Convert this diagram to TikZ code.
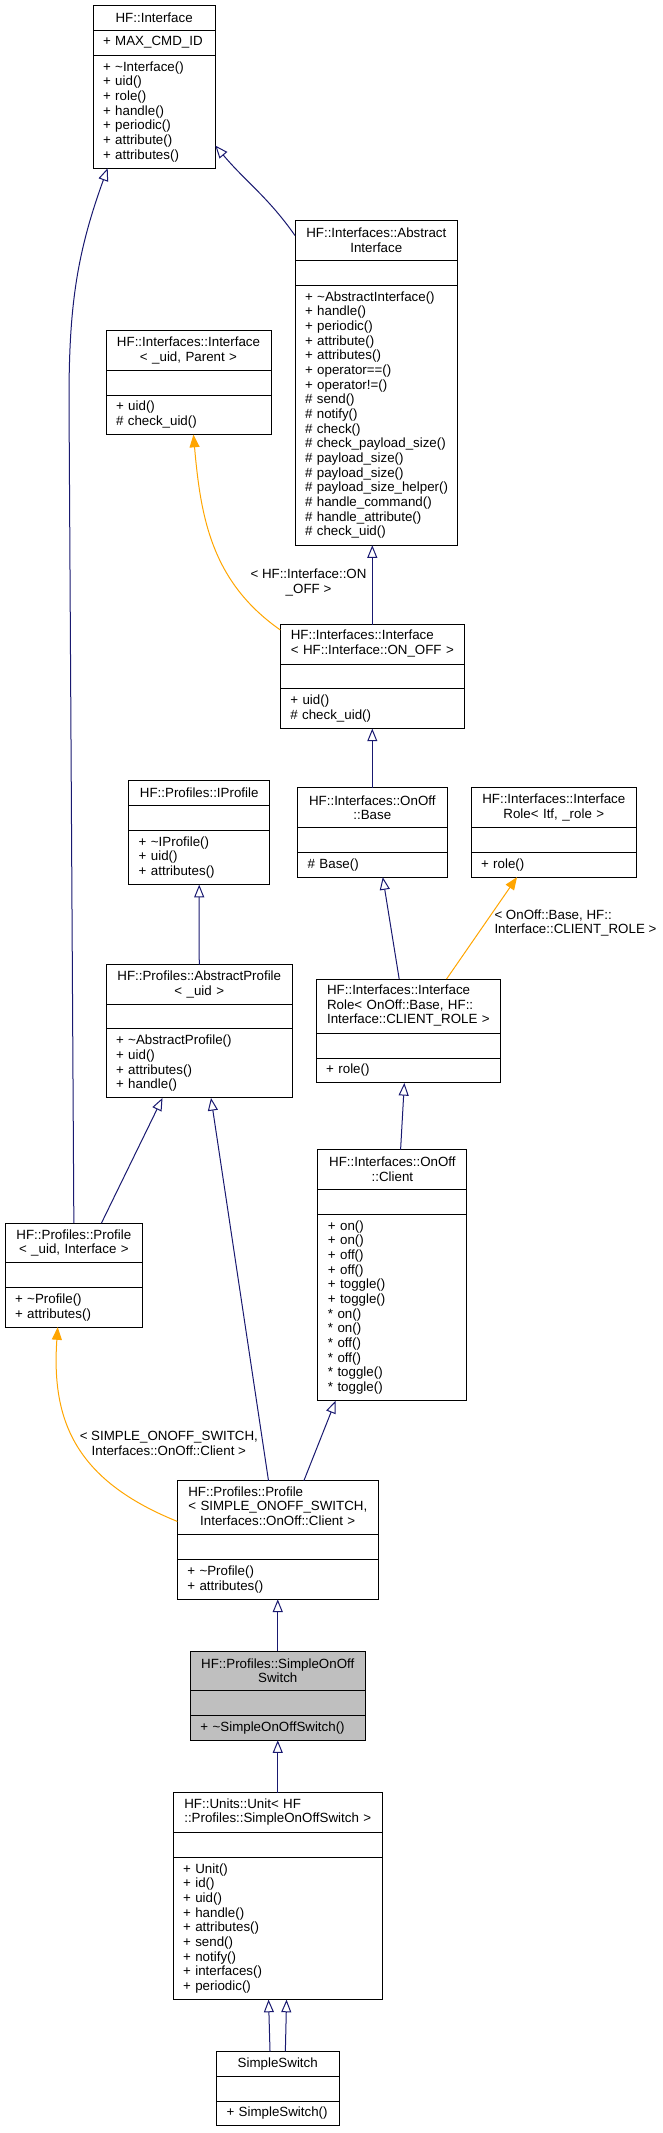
\documentclass[tikz,border=0pt]{standalone}
\usepackage{fontspec}
\setmainfont{Liberation Sans}
\usepackage{tikz}
\usetikzlibrary{arrows.meta,positioning,calc}
\definecolor{edgeblue}{HTML}{191970}
\definecolor{tplorange}{HTML}{FFA500}
\definecolor{curfill}{HTML}{BFBFBF}

\begin{document}
\begin{tikzpicture}[
    x=0.75pt, y=0.75pt,
    cls/.style={draw, line width=0.75pt, inner xsep=7.5pt, inner ysep=1pt,
                outer sep=0pt, text width={#1*0.75pt-15pt}},
    nrows/.style={minimum height={#1*11.03pt+7.6pt}},
    clshead/.style={align=center},
    clsbody/.style={align=left, execute at begin node={\hyphenpenalty=10000}},
    inherit/.style={draw=edgeblue, line width=0.75pt,
                    -{Triangle[open, length=9.5pt, width=7.5pt]}},
    tmpl/.style={draw=tplorange, line width=0.75pt,
                 -{Triangle[length=9.5pt, width=7.5pt]}},
    lbl/.style={align=center, inner sep=2pt},
    every node/.style={font=\fontsize{10}{11}\selectfont},
  ]
  \useasboundingbox (0,0) rectangle (662,-2133);

  % ── Row 0: HF::Interface ──
  \node[cls=122.3, clshead, nrows=1, anchor=north west] at (93,-5.4) (iface)
    {HF::Interface};
  \node[cls=122.3, clsbody, nrows=1, below=0pt of iface] (iface-a)
    {+ MAX\_CMD\_ID};
  \node[cls=122.3, clsbody, nrows=7, below=0pt of iface-a] (iface-m)
    {+ \textasciitilde Interface()\\+ uid()\\+ role()\\+ handle()\\
     + periodic()\\+ attribute()\\+ attributes()};

  % ── Row 1: AbstractInterface, Interface template ──
  \node[cls=162.6, clshead, nrows=2, anchor=north west] at (295,-220.7) (absiface)
    {HF::Interfaces::Abstract\\Interface};
  \node[cls=162.6, clsbody, nrows=1, below=0pt of absiface] (absiface-a) {};
  \node[cls=162.6, clsbody, nrows=17, below=0pt of absiface-a] (absiface-m)
    {+ \textasciitilde AbstractInterface()\\+ handle()\\+ periodic()\\
     + attribute()\\+ attributes()\\+ operator==()\\+ operator!=()\\
     \# send()\\\# notify()\\\# check()\\\# check\_payload\_size()\\
     \# payload\_size()\\\# payload\_size()\\\mbox{\# payload\_size\_helper()}\\
     \# handle\_command()\\\# handle\_attribute()\\\# check\_uid()};

  \node[cls=165, clshead, nrows=2, anchor=north west] at (106,-330.7) (ifacetpl)
    {HF::Interfaces::Interface\\< \_uid, Parent >};
  \node[cls=165, clsbody, nrows=1, below=0pt of ifacetpl] (ifacetpl-a) {};
  \node[cls=165, clsbody, nrows=2, below=0pt of ifacetpl-a] (ifacetpl-m)
    {+ uid()\\\# check\_uid()};

  % ── Row 2: Interface< ON_OFF > ──
  \node[cls=184, clshead, nrows=2, anchor=north west] at (280.3,-624.6) (ifaceonoff)
    {\begin{tabular}{@{}l@{}}HF::Interfaces::Interface\\
     < HF::Interface::ON\_OFF >\end{tabular}};
  \node[cls=184, clsbody, nrows=1, below=0pt of ifaceonoff] (ifaceonoff-a) {};
  \node[cls=184, clsbody, nrows=2, below=0pt of ifaceonoff-a] (ifaceonoff-m)
    {+ uid()\\\# check\_uid()};

  % ── Row 3: IProfile, OnOff::Base, InterfaceRole ──
  \node[cls=141, clshead, nrows=1, anchor=north west] at (128.7,-780.7) (iprofile)
    {HF::Profiles::IProfile};
  \node[cls=141, clsbody, nrows=1, below=0pt of iprofile] (iprofile-a) {};
  \node[cls=141, clsbody, nrows=3, below=0pt of iprofile-a] (iprofile-m)
    {+ \textasciitilde IProfile()\\+ uid()\\+ attributes()};

  \node[cls=149.4, clshead, nrows=2, anchor=north west] at (297.6,-787.9) (onoffbase)
    {HF::Interfaces::OnOff\\::Base};
  \node[cls=149.4, clsbody, nrows=1, below=0pt of onoffbase] (onoffbase-a) {};
  \node[cls=149.4, clsbody, nrows=1, below=0pt of onoffbase-a] (onoffbase-m)
    {\# Base()};

  \node[cls=165.6, clshead, nrows=2, anchor=north west] at (471,-787.9) (itfrole)
    {HF::Interfaces::Interface\\Role< Itf, \_role >};
  \node[cls=165.6, clsbody, nrows=1, below=0pt of itfrole] (itfrole-a) {};
  \node[cls=165.6, clsbody, nrows=1, below=0pt of itfrole-a] (itfrole-m)
    {+ role()};

  % ── Row 4: AbstractProfile, InterfaceRole< OnOff::Base > ──
  \node[cls=186.5, clshead, nrows=2, anchor=north west] at (106,-964.6) (absprofile)
    {HF::Profiles::AbstractProfile\\< \_uid >};
  \node[cls=186.5, clsbody, nrows=1, below=0pt of absprofile] (absprofile-a) {};
  \node[cls=186.5, clsbody, nrows=4, below=0pt of absprofile-a] (absprofile-m)
    {+ \textasciitilde AbstractProfile()\\+ uid()\\+ attributes()\\+ handle()};

  \node[cls=184.4, clshead, nrows=3, anchor=north west] at (316.2,-979) (clientrole)
    {\begin{tabular}{@{}l@{}}HF::Interfaces::Interface\\
     Role< OnOff::Base, HF::\\Interface::CLIENT\_ROLE >\end{tabular}};
  \node[cls=184.4, clsbody, nrows=1, below=0pt of clientrole] (clientrole-a) {};
  \node[cls=184.4, clsbody, nrows=1, below=0pt of clientrole-a] (clientrole-m)
    {+ role()};

  % ── Row 5: Profile< _uid, Interface >, OnOff::Client ──
  \node[cls=137.7, clshead, nrows=2, anchor=north west] at (5,-1223.2) (profileuid)
    {HF::Profiles::Profile\\< \_uid, Interface >};
  \node[cls=137.7, clsbody, nrows=1, below=0pt of profileuid] (profileuid-a) {};
  \node[cls=137.7, clsbody, nrows=2, below=0pt of profileuid-a] (profileuid-m)
    {+ \textasciitilde Profile()\\+ attributes()};

  \node[cls=149, clshead, nrows=2, anchor=north west] at (317.9,-1149.6) (client)
    {HF::Interfaces::OnOff\\::Client};
  \node[cls=149, clsbody, nrows=1, below=0pt of client] (client-a) {};
  \node[cls=149, clsbody, nrows=12, below=0pt of client-a] (client-m)
    {+ on()\\+ on()\\+ off()\\+ off()\\+ toggle()\\+ toggle()\\
     {}* on()\\{}* on()\\{}* off()\\{}* off()\\{}* toggle()\\{}* toggle()};

  % ── Row 6: Profile< SIMPLE_ONOFF_SWITCH > ──
  \node[cls=200.9, clshead, nrows=3, anchor=north west] at (177.3,-1480.7) (profile)
    {\begin{tabular}{@{}l@{}}HF::Profiles::Profile\\
     < SIMPLE\_ONOFF\_SWITCH,\\
     \multicolumn{1}{@{}c@{}}{Interfaces::OnOff::Client >}\end{tabular}};
  \node[cls=200.9, clsbody, nrows=1, below=0pt of profile] (profile-a) {};
  \node[cls=200.9, clsbody, nrows=2, below=0pt of profile-a] (profile-m)
    {+ \textasciitilde Profile()\\+ attributes()};

  % ── Row 7: SimpleOnOffSwitch (this class) ──
  \node[cls=174.7, clshead, nrows=2, fill=curfill, anchor=north west] at (190.4,-1651) (simpleonoff)
    {HF::Profiles::SimpleOnOff\\Switch};
  \node[cls=174.7, clsbody, nrows=1, fill=curfill, below=0pt of simpleonoff] (simpleonoff-a) {};
  \node[cls=174.7, clsbody, nrows=1, fill=curfill, below=0pt of simpleonoff-a] (simpleonoff-m)
    {+ \textasciitilde SimpleOnOffSwitch()};

  % ── Row 8: Unit ──
  \node[cls=209.3, clshead, nrows=2, anchor=north west] at (173.1,-1792.7) (unit)
    {\begin{tabular}{@{}l@{}}HF::Units::Unit< HF\\
     ::Profiles::SimpleOnOffSwitch >\end{tabular}};
  \node[cls=209.3, clsbody, nrows=1, below=0pt of unit] (unit-a) {};
  \node[cls=209.3, clsbody, nrows=9, below=0pt of unit-a] (unit-m)
    {+ Unit()\\+ id()\\+ uid()\\+ handle()\\+ attributes()\\+ send()\\
     + notify()\\+ interfaces()\\+ periodic()};

  % ── Row 9: SimpleSwitch ──
  \node[cls=122.5, clshead, nrows=1, anchor=north west] at (216.5,-2051.4) (simpleswitch)
    {SimpleSwitch};
  \node[cls=122.5, clsbody, nrows=1, below=0pt of simpleswitch] (simpleswitch-a) {};
  \node[cls=122.5, clsbody, nrows=1, below=0pt of simpleswitch-a] (simpleswitch-m)
    {+ SimpleSwitch()};

  % ── Arrows ──
  % AbstractInterface → Interface
  \draw[inherit] ($(absiface.north west)!0.375!(absiface.south west)$)
    to[out=125, in=-50] ($(iface-m.north east)!0.8!(iface-m.south east)$);

  % Profile< _uid, Interface > → Interface
  \draw[inherit] (profileuid.north) -- (69,-400)
    to[out=90, in=-110] ($(iface-m.south west)!0.12!(iface-m.south east)$);

  % Interface< ON_OFF > → AbstractInterface
  \draw[inherit] (ifaceonoff.north) -- (ifaceonoff.north |- absiface-m.south);

  % Interface< ON_OFF > instantiates Interface< _uid, Parent >
  \draw[tmpl] ($(ifaceonoff.north west)!0.135!(ifaceonoff.south west)$)
    to[out=145, in=-85]
    node[lbl, pos=0.3, right=11pt] {< HF::Interface::ON\\\_OFF >}
    ($(ifacetpl-m.south west)!0.53!(ifacetpl-m.south east)$);

  % OnOff::Base → Interface< ON_OFF >
  \draw[inherit] (onoffbase.north) -- (ifaceonoff-m.south);

  % AbstractProfile → IProfile
  \draw[inherit] (absprofile.north) -- (iprofile-m.south);

  % InterfaceRole< OnOff::Base > → OnOff::Base
  \draw[inherit] ($(clientrole.north west)!0.45!(clientrole.north east)$)
    -- ($(onoffbase-m.south west)!0.57!(onoffbase-m.south east)$);

  % InterfaceRole< OnOff::Base > instantiates InterfaceRole< Itf, _role >
  \draw[tmpl] ($(clientrole.north west)!0.707!(clientrole.north east)$)
    -- node[lbl, pos=0.55, right=4.5pt, align=left]
    {< OnOff::Base, HF::\\Interface::CLIENT\_ROLE >}
    ($(itfrole-m.south west)!0.278!(itfrole-m.south east)$);

  % OnOff::Client → InterfaceRole< OnOff::Base >
  \draw[inherit] ($(client.north west)!0.555!(client.north east)$)
    -- ($(clientrole-m.south west)!0.478!(clientrole-m.south east)$);

  % Profile< _uid, Interface > → AbstractProfile
  \draw[inherit] ($(profileuid.north west)!0.70!(profileuid.north east)$)
    -- ($(absprofile-m.south west)!0.303!(absprofile-m.south east)$);

  % Profile< SIMPLE_ONOFF_SWITCH > → AbstractProfile
  \draw[inherit] ($(profile.north west)!0.454!(profile.north east)$)
    -- ($(absprofile-m.south west)!0.563!(absprofile-m.south east)$);

  % Profile< SIMPLE_ONOFF_SWITCH > → OnOff::Client
  \draw[inherit] ($(profile.north west)!0.63!(profile.north east)$)
    -- ($(client-m.south west)!0.119!(client-m.south east)$);

  % Profile< SIMPLE_ONOFF_SWITCH > instantiates Profile< _uid, Interface >
  \draw[tmpl] ($(profile.north west)!0.75!(profile.south west)$)
    to[out=158, in=-94, out looseness=1.24, in looseness=1.04]
    node[lbl, pos=0.5, anchor=west]
    {< SIMPLE\_ONOFF\_SWITCH,\\Interfaces::OnOff::Client >}
    ($(profileuid-m.south west)!0.383!(profileuid-m.south east)$);

  % SimpleOnOffSwitch → Profile
  \draw[inherit] (simpleonoff.north) -- (profile-m.south);

  % Unit → SimpleOnOffSwitch
  \draw[inherit] (unit.north) -- (simpleonoff-m.south);

  % SimpleSwitch → Unit (twice)
  \draw[inherit] ([xshift=-5.8pt]simpleswitch.north) -- ([xshift=-6.9pt]unit-m.south);
  \draw[inherit] ([xshift=5.7pt]simpleswitch.north) -- ([xshift=6.6pt]unit-m.south);

\end{tikzpicture}
\end{document}
